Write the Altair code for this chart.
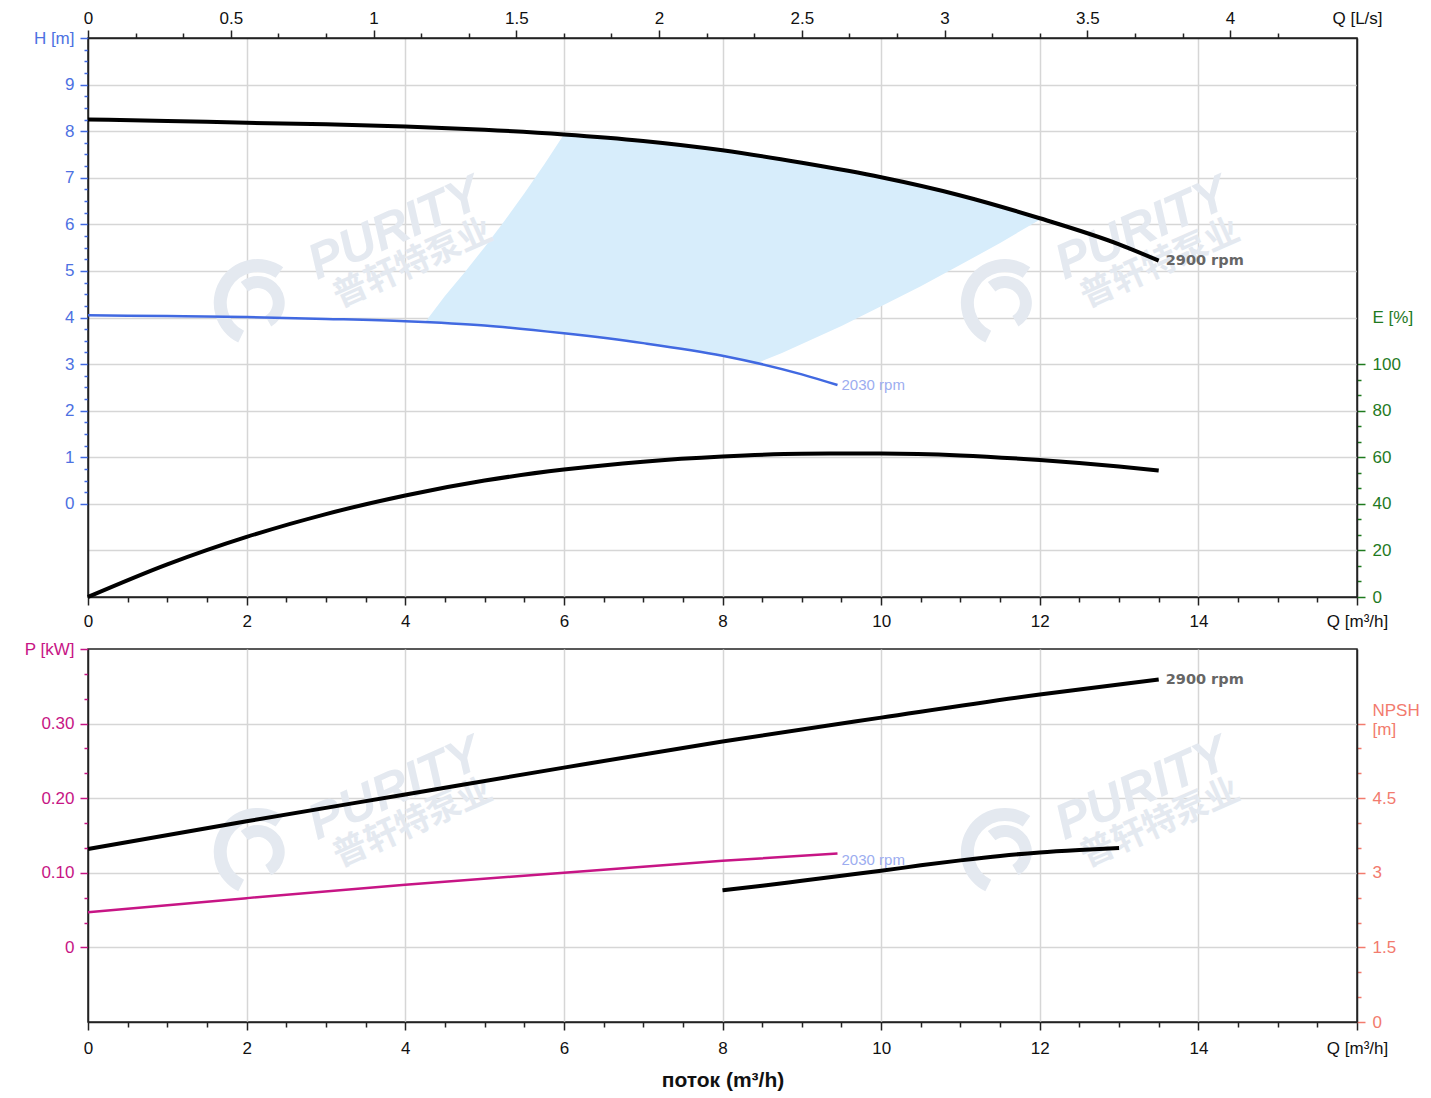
import altair as alt
import pandas as pd

# ---------------- data ----------------
# Head, 2900 rpm  (Q in m3/h, H in m)
Q_H2900 = [0, 1, 2, 3, 4, 5, 6, 7, 8, 9, 10, 11, 12, 13, 13.5]
H_2900 = [8.25, 8.22, 8.18, 8.15, 8.10, 8.03, 7.93, 7.79, 7.59, 7.32, 7.01, 6.62, 6.13, 5.57, 5.22]
# Head, 2030 rpm
Q_H2030 = [0, 1, 2, 3, 4, 5, 6, 7, 8, 9, 9.45]
H_2030 = [4.05, 4.03, 4.01, 3.97, 3.92, 3.83, 3.66, 3.45, 3.18, 2.78, 2.55]
# Efficiency, 2900 rpm (%)
Q_E = [0, 1, 2, 3, 4, 5, 6, 7, 8, 9, 10, 11, 12, 13, 13.5]
E_2900 = [0, 14.0, 25.8, 35.6, 43.6, 50.0, 54.7, 58.1, 60.3, 61.5, 61.6, 60.8, 58.8, 56.0, 54.3]
# Shaded operating region (upper / lower head boundary)
Q_AREA = [4.25, 4.5, 4.75, 5.0, 5.25, 5.5, 5.75, 6.0, 6.5, 7.0, 7.5, 8.0, 8.45,
          8.75, 9.0, 9.5, 10.0, 10.5, 11.0, 11.5, 12.0]
H_AREA_TOP = [3.90, 4.46, 4.97, 5.51, 6.07, 6.66, 7.28, 7.93, 7.86, 7.79, 7.70, 7.59, 7.47,
              7.39, 7.32, 7.17, 7.01, 6.83, 6.62, 6.39, 6.13]
H_AREA_BOT = [3.90, 3.88, 3.86, 3.83, 3.80, 3.76, 3.71, 3.66, 3.57, 3.45, 3.33, 3.18, 3.03,
              3.24, 3.43, 3.82, 4.24, 4.67, 5.13, 5.60, 6.10]
# Power (kW)
Q_P2900 = [0, 2, 4, 6, 8, 10, 12, 13.5]
P_2900 = [0.132, 0.169, 0.205, 0.241, 0.276, 0.308, 0.339, 0.359]
Q_P2030 = [0, 2, 4, 6, 8, 9.45]
P_2030 = [0.047, 0.066, 0.084, 0.100, 0.116, 0.126]
# NPSH (m)
Q_NPSH = [8, 8.5, 9, 9.5, 10, 10.5, 11, 11.5, 12, 12.5, 13]
NPSH = [2.65, 2.74, 2.84, 2.94, 3.04, 3.15, 3.25, 3.34, 3.41, 3.46, 3.50]
# curve labels
RPM_HIGH = "2900 rpm"
RPM_LOW = "2030 rpm"
# watermark
WM_TEXT = ["PURITY", "普轩特泵业"]

# ---------------- style ----------------
FONT = "Liberation Sans"
FS = 17
GRID = "#d6d6d6"
DARK = "#222222"
BLUE = "#4169E1"
BLUE_LBL = "#4d71e2"
GREEN = "#1f7a1f"
MAGENTA = "#C71585"
SALMON = "#F27B6E"
AREA = "#d7edfb"
WM = "#e4e9f0"
RPM_LOW_C = "#9cadf0"


def mult(step):
    return f"abs(datum.value/{step} - round(datum.value/{step})) < 0.001"


def cond(test, a, b):
    return {"condition": {"test": test, "value": a}, "value": b}


XS = alt.Scale(domain=[0, 16], nice=False, zero=False)
HS = alt.Scale(domain=[-2, 10], nice=False, zero=False)
ES = alt.Scale(domain=[0, 240], nice=False, zero=False)
PS = alt.Scale(domain=[-0.1, 0.4], nice=False, zero=False)
NS = alt.Scale(domain=[0, 7.5], nice=False, zero=False)

common = dict(labelFont=FONT, labelFontSize=FS, labelFlush=False, labelOverlap=False,
              domainColor=DARK, domainWidth=1.5, tickWidth=1.5)

x_vals = [i * 0.5 for i in range(33)]


def x_axis(title=None, pad=8):
    kw = dict(
        orient="bottom", values=x_vals, grid=True, gridColor=GRID, gridWidth=1.5,
        gridOpacity=cond(f"{mult(2)} && datum.value > 0.1 && datum.value < 15.9", 1, 0),
        tickSize=cond(mult(2), 8, 5), tickColor=DARK,
        labelExpr="datum.value > 15.9 ? 'Q [m³/h]' : (" + mult(2) + " ? format(datum.value, '~g') : '')",
        labelColor="#111", labelPadding=pad, **common)
    if title:
        kw.update(title=title, titleFont=FONT, titleFontSize=21, titleFontWeight="bold",
                  titleColor="#111", titlePadding=13)
    else:
        kw.update(title=None)
    return alt.Axis(**kw)


top_vals = [round(k * 0.6, 6) for k in range(26)] + [16]
top_axis = alt.Axis(
    orient="top", values=top_vals, grid=False,
    tickSize=cond(mult(1.8) + " || datum.value > 15.9", 8, 5), tickColor=DARK,
    tickOpacity=cond("datum.value > 15.9", 0, 1),
    labelExpr="datum.value > 15.9 ? 'Q [L/s]' : (" + mult(1.8) + " ? format(datum.value/3.6, '.2~f') : '')",
    labelColor="#111", labelPadding=3, title=None, **common)

h_vals = [-1] + [i * 0.25 for i in range(41)]
h_axis = alt.Axis(
    orient="left", values=h_vals, grid=True, gridColor=GRID, gridWidth=1.5,
    gridOpacity=cond(f"{mult(1)} && datum.value < 9.9", 1, 0),
    tickSize=cond(mult(1), 8, 4), tickColor=BLUE,
    tickOpacity=cond("datum.value < 0", 0, 1),
    labelExpr="datum.value > 9.9 ? 'H [m]' : ((datum.value >= 0 && " + mult(1) + ") ? format(datum.value, '~g') : '')",
    labelColor=BLUE_LBL, labelPadding=6, title=None, **common)

e_vals = [round(i * 20 / 3, 4) for i in range(16)] + [120]
e_axis = alt.Axis(
    orient="right", values=e_vals, grid=False,
    tickSize=cond(mult(20), 8, 4), tickColor=GREEN,
    tickOpacity=cond("datum.value > 110", 0, 1),
    labelExpr="datum.value > 110 ? 'E [%]' : (" + mult(20) + " ? format(datum.value, '.0f') : '')",
    labelColor=GREEN, labelPadding=7, title=None, **common)

p_vals = [-0.1] + [round(i / 30, 5) for i in range(13)]
p_axis = alt.Axis(
    orient="left", values=p_vals, grid=True, gridColor=GRID, gridWidth=1.5,
    gridOpacity=cond(f"{mult(0.1)} && datum.value > -0.05 && datum.value < 0.39", 1, 0),
    tickSize=cond(mult(0.1), 8, 4), tickColor=MAGENTA,
    tickOpacity=cond("datum.value < -0.05", 0, 1),
    labelExpr="datum.value > 0.39 ? 'P [kW]' : (abs(datum.value) < 0.001 ? '0' : ((datum.value > 0 && "
              + mult(0.1) + ") ? format(datum.value, '.2f') : ''))",
    labelColor=MAGENTA, labelPadding=6, title=None, **common)

n_vals = [i * 0.5 for i in range(13)] + [6.27]
n_axis = alt.Axis(
    orient="right", values=n_vals, grid=False,
    tickSize=cond(mult(1.5) + " || datum.value > 6.1", 8, 4), tickColor=SALMON,
    tickOpacity=cond("datum.value > 6.1", 0, 1),
    labelExpr="datum.value > 6.1 ? ['NPSH', '[m]'] : ((datum.value < 5.9 && " + mult(1.5) + ") ? format(datum.value, '~g') : '')",
    labelColor=SALMON, labelPadding=7, title=None, **common)

# ---------------- data frames ----------------
df_h29 = pd.DataFrame({"Q": Q_H2900, "H": H_2900})
df_h20 = pd.DataFrame({"Q": Q_H2030, "H": H_2030})
df_e = pd.DataFrame({"Q": Q_E, "E": E_2900})
df_area = pd.DataFrame({"Q": Q_AREA, "top": H_AREA_TOP, "bot": H_AREA_BOT})
df_p29 = pd.DataFrame({"Q": Q_P2900, "P": P_2900})
df_p20 = pd.DataFrame({"Q": Q_P2030, "P": P_2030})
df_n = pd.DataFrame({"Q": Q_NPSH, "N": NPSH})

WM_Q_EN = [3.87, 13.29]
WM_Q_CN = [4.10, 13.52]
WM_Q_LOGO = [2.14, 11.56]
df_wm_top_en = pd.DataFrame({"Q": WM_Q_EN, "H": [5.90] * 2, "t": [WM_TEXT[0]] * 2})
df_wm_top_cn = pd.DataFrame({"Q": WM_Q_CN, "H": [5.15] * 2, "t": [WM_TEXT[1]] * 2})
df_wm_top_logo = pd.DataFrame({"Q": WM_Q_LOGO, "H": [4.31] * 2})
df_wm_bot_en = pd.DataFrame({"Q": WM_Q_EN, "P": [0.212] * 2, "t": [WM_TEXT[0]] * 2})
df_wm_bot_cn = pd.DataFrame({"Q": WM_Q_CN, "P": [0.166] * 2, "t": [WM_TEXT[1]] * 2})
df_wm_bot_logo = pd.DataFrame({"Q": WM_Q_LOGO, "P": [0.128] * 2})

df_lbl_h29 = pd.DataFrame({"Q": [Q_H2900[-1]], "H": [H_2900[-1]], "t": [RPM_HIGH]})
df_lbl_h20 = pd.DataFrame({"Q": [Q_H2030[-1]], "H": [H_2030[-1]], "t": [RPM_LOW]})
df_lbl_p29 = pd.DataFrame({"Q": [Q_P2900[-1]], "P": [P_2900[-1]], "t": [RPM_HIGH]})
df_lbl_p20 = pd.DataFrame({"Q": [Q_P2030[-1]], "P": [P_2030[-1]], "t": [RPM_LOW]})


def watermark(df_en, df_cn, df_logo, x, yf):
    en = alt.Chart(df_en).mark_text(
        font=FONT, fontSize=50, fontWeight="bold", fontStyle="italic", color=WM, angle=336
    ).encode(x=x, y=yf("H" if "H" in df_en else "P"), text="t:N")
    cn = alt.Chart(df_cn).mark_text(
        font="Noto Sans CJK SC", fontSize=34, fontWeight="bold", color=WM, angle=336
    ).encode(x=x, y=yf("H" if "H" in df_cn else "P"), text="t:N")
    yl = yf("H" if "H" in df_logo else "P")
    ring = alt.Chart(df_logo).mark_arc(
        radius=44, radius2=31, theta=3.6, theta2=6.9, color=WM
    ).encode(x=x, y=yl)
    inner = alt.Chart(df_logo).mark_arc(
        radius=27, radius2=15, theta=5.6, theta2=8.9, color=WM
    ).encode(x=x, y=yl)
    return [ring, inner, en, cn]


# ---------------- top panel ----------------
xb_top = alt.X("Q:Q", scale=XS, axis=x_axis())
yH = lambda f: alt.Y(f"{f}:Q", scale=HS, axis=h_axis)

area = alt.Chart(df_area).mark_area(color=AREA, opacity=1).encode(
    x=xb_top, y=yH("top"), y2=alt.Y2("bot:Q"))

h29 = alt.Chart(df_h29).mark_line(color="black", strokeWidth=4, interpolate="monotone").encode(
    x=xb_top, y=yH("H"))
h20 = alt.Chart(df_h20).mark_line(color=BLUE, strokeWidth=2.5, interpolate="monotone").encode(
    x=xb_top, y=yH("H"))
lbl_h29 = alt.Chart(df_lbl_h29).mark_text(
    font="DejaVu Sans", fontSize=14.5, fontWeight="bold", color="#666666", align="left", dx=7, dy=0
).encode(x=xb_top, y=yH("H"), text="t:N")
lbl_h20 = alt.Chart(df_lbl_h20).mark_text(
    font=FONT, fontSize=15, color=RPM_LOW_C, align="left", dx=4, dy=0
).encode(x=xb_top, y=yH("H"), text="t:N")

e_line = alt.Chart(df_e).mark_line(color="black", strokeWidth=4, interpolate="monotone").encode(
    x=alt.X("Q:Q", scale=XS, axis=top_axis), y=alt.Y("E:Q", scale=ES, axis=e_axis))

top = alt.layer(
    alt.layer(area, *watermark(df_wm_top_en, df_wm_top_cn, df_wm_top_logo, xb_top, yH),
              h29, h20, lbl_h29, lbl_h20),
    e_line,
).resolve_scale(y="independent").resolve_axis(x="independent").properties(width=1269, height=559)

# ---------------- bottom panel ----------------
xb_bot = alt.X("Q:Q", scale=XS, axis=x_axis("поток (m³/h)", pad=10))
yP = lambda f: alt.Y(f"{f}:Q", scale=PS, axis=p_axis)

p29 = alt.Chart(df_p29).mark_line(color="black", strokeWidth=4, interpolate="monotone").encode(
    x=xb_bot, y=yP("P"))
p20 = alt.Chart(df_p20).mark_line(color=MAGENTA, strokeWidth=2.5, interpolate="monotone").encode(
    x=xb_bot, y=yP("P"))
lbl_p29 = alt.Chart(df_lbl_p29).mark_text(
    font="DejaVu Sans", fontSize=14.5, fontWeight="bold", color="#666666", align="left", dx=7, dy=0
).encode(x=xb_bot, y=yP("P"), text="t:N")
lbl_p20 = alt.Chart(df_lbl_p20).mark_text(
    font=FONT, fontSize=15, color=RPM_LOW_C, align="left", dx=4, dy=7
).encode(x=xb_bot, y=yP("P"), text="t:N")

n_line = alt.Chart(df_n).mark_line(color="black", strokeWidth=4, interpolate="monotone").encode(
    x=xb_bot, y=alt.Y("N:Q", scale=NS, axis=n_axis))

bottom = alt.layer(
    alt.layer(*watermark(df_wm_bot_en, df_wm_bot_cn, df_wm_bot_logo, xb_bot, yP),
              p29, p20, lbl_p29, lbl_p20),
    n_line,
).resolve_scale(y="independent").properties(width=1269, height=373)

chart = alt.vconcat(top, bottom, spacing=9).properties(
    padding={"left": 15, "top": 0, "right": 0, "bottom": 0}
).configure_view(stroke=DARK, strokeWidth=1.5)

chart.save("out.html", embed_options={"renderer": "svg", "actions": False})
